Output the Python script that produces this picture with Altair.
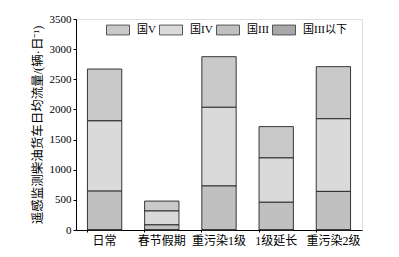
import altair as alt
import pandas as pd

categories = ["日常", "春节假期", "重污染1级", "1级延长", "重污染2级"]
series = ["国V", "国IV", "国III", "国III以下"]
guo5 = [860, 165, 840, 520, 865]
guo4 = [1165, 230, 1305, 735, 1205]
guo3 = [645, 85, 730, 460, 640]
guo3_below = [0, 0, 0, 0, 0]
y_ticks = [0, 500, 1000, 1500, 2000, 2500, 3000, 3500]

values = {"国V": guo5, "国IV": guo4, "国III": guo3, "国III以下": guo3_below}
rank = {"国III以下": 0, "国III": 1, "国IV": 2, "国V": 3}
rows = []
for s in series:
    for c, v in zip(categories, values[s]):
        rows.append({"cat": c, "series": s, "value": v, "rank": rank[s]})
df = pd.DataFrame(rows)

FONT = "Liberation Serif, Noto Sans CJK SC"
fills = ["#c9c9c9", "#dadada", "#c0c0c0", "#a8a8a8"]

chart = alt.Chart(df).mark_bar(stroke="#222222", strokeWidth=0.9).encode(
    x=alt.X("cat:N", sort=categories, title=None,
            scale=alt.Scale(paddingInner=0.4, paddingOuter=0.2),
            axis=alt.Axis(labelAngle=0, labelFont=FONT, labelFontSize=12, labelColor="#000",
                          labelPadding=3, bandPosition=0, tickSize=2, tickColor="#000",
                          domainColor="#000")),
    y=alt.Y("value:Q", stack="zero", title="遥感监测柴油货车日均流量/(辆·日⁻¹)",
            scale=alt.Scale(domain=[0, 3500], nice=False),
            axis=alt.Axis(values=y_ticks, format="d", labelFont=FONT, labelFontSize=11,
                          labelColor="#000", tickSize=3, labelPadding=2, tickColor="#000",
                          domainColor="#000", grid=False, titleFont=FONT, titleFontSize=12.5,
                          titleFontWeight="normal", titleColor="#000", titlePadding=5)),
    color=alt.Color("series:N", scale=alt.Scale(domain=series, range=fills),
                    legend=alt.Legend(title=None, orient="none", legendX=30, legendY=-1,
                                      direction="horizontal", columns=4, gridAlign="none",
                                      symbolType="M-1,-0.43H1V0.43H-1Z", symbolSize=529,
                                      symbolStrokeColor="#333", symbolStrokeWidth=0.8,
                                      labelFont=FONT, labelFontSize=11, labelColor="#000",
                                      labelOffset=7, columnPadding=1, padding=0)),
    order=alt.Order("rank:Q"),
).properties(
    width=286, height=211,
    autosize=alt.AutoSizeParams(type="none"),
    padding={"left": 68, "top": 11, "right": 29, "bottom": 19},
).configure_view(stroke=None).configure(background="white")

chart.save("out.html", embed_options={"renderer": "svg", "actions": False})
